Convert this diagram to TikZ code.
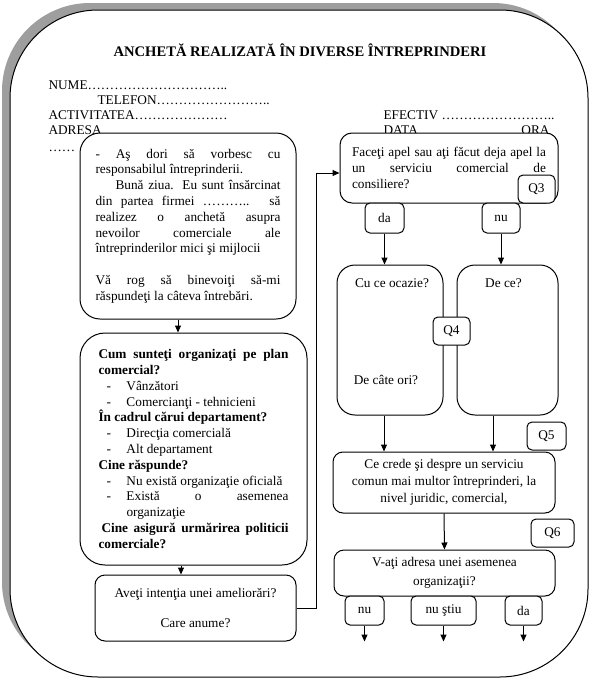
\documentclass[tikz,border=0pt]{standalone}
\usepackage{fontspec}
\setmainfont{Liberation Serif}
\usetikzlibrary{arrows.meta,calc,positioning}
\newcommand{\STxt}{\fontsize{13.3}{15.8}\selectfont}
\newcommand{\SHead}{\fontsize{14.6}{17}\selectfont\bfseries}
\newcommand{\Itm}[1]{\par\noindent\hangindent=28pt\hangafter=1\makebox[28pt][l]{\hspace{8pt}-}#1\par}

\begin{document}
\begin{tikzpicture}[x=1pt, y=1pt,
  font=\STxt, line width=1pt,
  qbox/.style={draw, fill=white, rounded corners=20pt, inner sep=0pt},
  qtag/.style={draw, fill=white, rounded corners=5pt, inner sep=0pt,
               minimum height=28pt},
  flow/.style={-{Triangle[length=7pt,width=6pt]}, line width=1pt},
  hdr/.style={anchor=base west, inner sep=0pt}
]
\useasboundingbox (0,0) rectangle (592,-680);

% Frame with its shadow.
\fill[black!38, rounded corners=88pt] (2,-3) rectangle (581,-670);
\draw[fill=white, rounded corners=88pt] (10,-10) rectangle (588,-677);

% Heading of the form.
\node[font=\SHead] (title) at (300,-50) {ANCHETĂ REALIZATĂ ÎN DIVERSE ÎNTREPRINDERI};
\node[hdr] (nume) at (48,-89.5) {NUME…………………………..};
\node[hdr] (telefon) at (97,-104) {TELEFON……………………..};
\node[hdr] (activ) at (48,-119.5) {ACTIVITATEA…………………};
\node[hdr] (adresa) at (48,-134) {ADRESA};
\node[hdr] (rest) at (48,-151) {……};
\node[hdr] (efectiv) at (383,-119.5) {EFECTIV ……………………..};
\node[hdr] (data) at (383,-134) {DATA};
\node[hdr, anchor=base east] (ora) at (550,-134) {ORA};

% Left column.
\node[qbox, text width=185pt, align=justify,
      minimum width=216pt, minimum height=186pt] (intro) at (188,-226) {%
  \noindent - Aş dori să vorbesc cu\linebreak responsabilul întreprinderii.\par
  \noindent\hspace*{20pt}Bună ziua. Eu sunt însărcinat\linebreak
  din partea firmei ……….. să\linebreak realizez o anchetă asupra\linebreak
  nevoilor comerciale ale\linebreak întreprinderilor mici şi mijlocii\par
  \vspace{15.8pt}
  \noindent Vă rog să binevoiţi să-mi\linebreak răspundeţi la câteva întrebări.\par};

\node[qbox, rounded corners=25pt, text width=190pt, align=justify,
      minimum width=227pt, minimum height=232pt] (organizare) at (193.5,-449) {%
  \noindent\textbf{Cum sunteţi organizaţi pe plan\linebreak comercial?}\par
  \Itm{Vânzători}
  \Itm{Comercianţi - tehnicieni}
  \noindent\textbf{În cadrul cărui departament?}\par
  \Itm{Direcţia comercială}
  \Itm{Alt departament}
  \noindent\textbf{Cine răspunde?}\par
  \Itm{Nu există organizaţie oficială}
  \Itm{Există o asemenea\linebreak organizaţie}
  \noindent\hspace*{3pt}\textbf{Cine asigură urmărirea politicii\linebreak comerciale?}\par};

\node[qbox, rounded corners=10pt, align=center,
      minimum width=201pt, minimum height=66pt] (ameliorare) at (195.5,-608)
  {Aveţi intenţia unei ameliorări?\\[15pt] Care anume?};

\draw[flow] ([xshift=-10pt]intro.south) -- ([xshift=-10pt]intro.south |- organizare.north);
\draw[flow] ([xshift=-12.5pt]organizare.south) -- ([xshift=-12.5pt]organizare.south |- ameliorare.north);

% Right column.
\node[qbox, rounded corners=12pt, text width=194pt, align=justify,
      minimum width=218pt, minimum height=70pt] (apel) at (449,-168) {%
  \noindent Faceţi apel sau aţi făcut deja apel la\linebreak
  un serviciu comercial de\linebreak consiliere?\par\vspace{5pt}};
\node[qtag, minimum width=37pt] (q3) at (536.5,-189) {Q3};
\node[qtag, minimum width=39pt, minimum height=30pt] (da1) at (384.5,-218) {da};
\node[qtag, minimum width=38pt, minimum height=30pt] (nu1) at (501,-218) {nu};

\node[qbox, rounded corners=18pt, minimum width=106pt, minimum height=150pt] (ocazie) at (390,-340) {};
\node[qbox, rounded corners=18pt, minimum width=101pt, minimum height=150pt] (dece) at (507.5,-340) {};
\node (tocazie) at ($(ocazie.north)+(2,-19)$) {Cu ce ocazie?};
\node (tori) at ($(ocazie.north)+(-4,-115)$) {De câte ori?};
\node (tdece) at ($(dece.north)+(-4,-19)$) {De ce?};
\node[qtag, minimum width=37pt] (q4) at (451.5,-331) {Q4};

\draw[flow] (da1.south) -- (da1.south |- ocazie.north);
\draw[flow] (nu1.south) -- (nu1.south |- dece.north);

\node[qbox, rounded corners=10pt, align=center, font=\fontsize{13.3}{17}\selectfont,
      minimum width=222pt, minimum height=61pt] (crede) at (444,-482.5)
  {Ce crede şi despre un serviciu\\ comun mai multor întreprinderi, la\\ nivel juridic, comercial,};
\node[qtag, minimum width=39pt] (q5) at (546.5,-436) {Q5};

\draw[flow] ([xshift=-6pt]ocazie.south) -- ([xshift=-6pt]ocazie.south |- crede.north);
\draw[flow] ([xshift=-14.5pt]dece.south) -- ([xshift=-14.5pt]dece.south |- crede.north);

\node[qbox, rounded corners=10pt, align=center,
      minimum width=221pt, minimum height=46pt] (adresare) at (444.5,-573)
  {V-aţi adresa unei asemenea\\[3pt] organizaţii?};
\node[qtag, minimum width=43pt] (q6) at (552.5,-533) {Q6};
\draw[flow] (crede.south) -- (adresare.north);

\node[qtag, minimum width=39pt, minimum height=29pt] (nu2) at (364.5,-610.5) {nu};
\node[qtag, minimum width=65pt, minimum height=29pt] (nustiu) at (443.5,-610.5) {nu ştiu};
\node[qtag, minimum width=37pt, minimum height=29pt] (da2) at (523.5,-610.5) {da};
\foreach \t in {nu2, nustiu, da2} {
  \coordinate (end\t) at ($(\t.south)+(0,-16)$);
  \draw[flow] (\t.south) -- (end\t);
}

% Back to the first question on the right.
\draw[flow] (ameliorare.east) -- ++(20,0) |- ([yshift=-5pt]apel.west);
\end{tikzpicture}
\end{document}
